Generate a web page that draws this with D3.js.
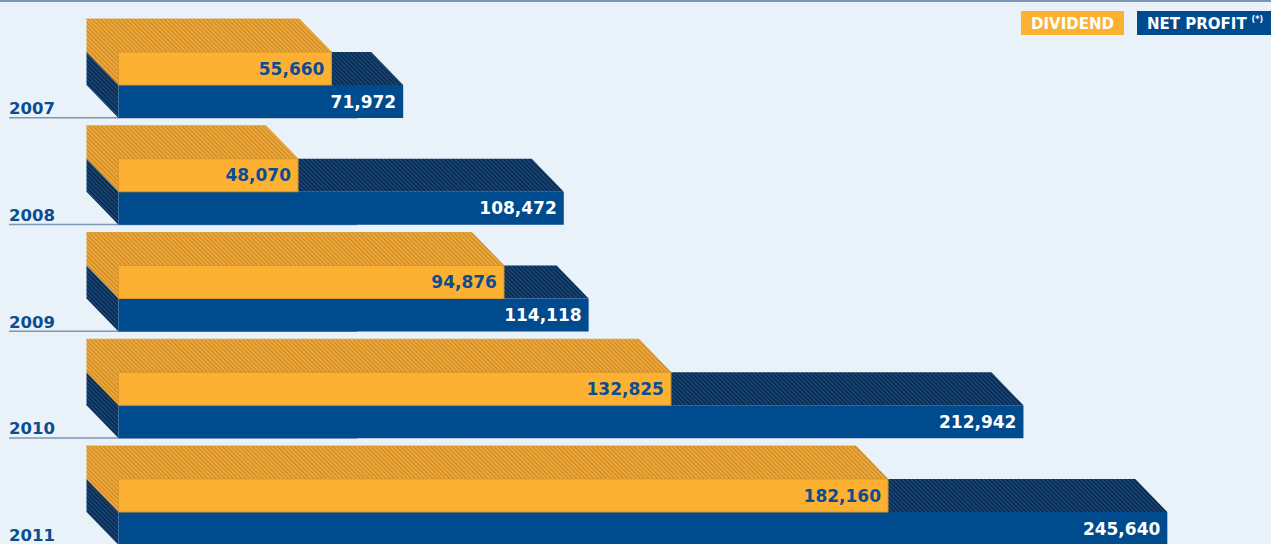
<!DOCTYPE html>
<html>
<head>
<meta charset="utf-8">
<script src="https://cdn.jsdelivr.net/npm/d3@7"></script>
<style>
  html, body { margin: 0; padding: 0; background: #e9f1f9; }
  svg { display: block; }
</style>
</head>
<body>
<script>
// Dividend vs. net profit per year (stacked 3D bars)
const years = ["2007", "2008", "2009", "2010", "2011"];
const dividend = [55660, 48070, 94876, 132825, 182160];
const netProfit = [71972, 108472, 114118, 212942, 245640];
const legendLabels = ["DIVIDEND", "NET PROFIT"];

const W = 1271, H = 544;
const C = {
  bg: "#e9f1f9",
  orange: "#fcb133",
  orangeEdge: "#d9972b",
  orangeHatchBase: "#f1a836",
  orangeHatchLine: "#c4882c",
  navy: "#004a8e",
  navyHatchBase: "#174678",
  navyHatchLine: "#07213f",
  rule: "#7d95b6",
  text: "#0b4d8f"
};
const font = "'DejaVu Sans', sans-serif";

const svg = d3.select("body").append("svg")
  .attr("width", W).attr("height", H)
  .style("background", C.bg);

// stripe patterns for the receding faces
const defs = svg.append("defs");
function hatch(id, base, line) {
  const p = defs.append("pattern")
    .attr("id", id)
    .attr("patternUnits", "userSpaceOnUse")
    .attr("width", 3).attr("height", 3)
    .attr("patternTransform", "rotate(-45)");
  p.append("rect").attr("width", 3).attr("height", 3).attr("fill", base);
  p.append("rect").attr("x", 0).attr("y", 0).attr("width", 1.1).attr("height", 3).attr("fill", line);
}
hatch("hatchOrange", C.orangeHatchBase, C.orangeHatchLine);
hatch("hatchNavy", C.navyHatchBase, C.navyHatchLine);

// top rule
svg.append("rect").attr("x", 0).attr("y", 0).attr("width", W).attr("height", 2).attr("fill", C.rule);

// scales
const depthX = 32, depthY = 33, layerH = 33;
const x = d3.scaleLinear().domain([0, 250000]).range([86.5, 1186.5]);
const step = 106.75, gap = 7.75;
const y = d3.scaleBand().domain(years)
  .range([19, 19 + years.length * step - gap])
  .paddingInner(gap / step).paddingOuter(0);

const fmt = d3.format(",");
const rows = years.map((yr, i) => ({ year: yr, div: dividend[i], net: netProfit[i] }));

const g = svg.selectAll("g.row").data(rows).join("g").attr("class", "row");

// baseline rule + year label
g.append("line")
  .attr("x1", 9).attr("x2", 357)
  .attr("y1", d => y(d.year) + y.bandwidth() - 0.25)
  .attr("y2", d => y(d.year) + y.bandwidth() - 0.25)
  .attr("stroke", C.rule).attr("stroke-width", 1.5);

g.append("text")
  .attr("x", 9)
  .attr("y", d => y(d.year) + y.bandwidth() - 4)
  .attr("font-family", font).attr("font-weight", "bold")
  .attr("font-size", 16.5).attr("fill", C.text)
  .text(d => d.year);

// one extruded box: back-left face is offset up-left by the depth
function box(sel, key, yOff, frontFill, hatchId, edge) {
  const x0 = x(0);
  const pts = (d) => {
    const top = y(d.year) + yOff;
    const front = top + depthY;
    const xe = x(d[key]);
    return { top, front, xe };
  };
  sel.append("polygon")
    .attr("points", d => {
      const p = pts(d);
      return [[x0, p.top], [p.xe - depthX, p.top], [p.xe, p.front], [x0 + depthX, p.front]].join(" ");
    })
    .attr("fill", `url(#${hatchId})`)
    .attr("stroke", edge).attr("stroke-width", 0.8);
  sel.append("polygon")
    .attr("points", d => {
      const p = pts(d);
      return [[x0, p.top], [x0 + depthX, p.front], [x0 + depthX, p.front + layerH], [x0, p.top + layerH]].join(" ");
    })
    .attr("fill", `url(#${hatchId})`);
  sel.append("rect")
    .attr("x", x0 + depthX)
    .attr("y", d => pts(d).front)
    .attr("width", d => pts(d).xe - x0 - depthX)
    .attr("height", layerH)
    .attr("fill", frontFill)
    .attr("stroke", edge === "none" ? null : edge)
    .attr("stroke-width", 1);
}

box(g, "net", depthY, C.navy, "hatchNavy", "none");
box(g, "div", 0, C.orange, "hatchOrange", C.orangeEdge);

// value labels
g.append("text")
  .attr("x", d => x(d.div) - 7)
  .attr("y", d => y(d.year) + depthY + layerH / 2 + 6)
  .attr("text-anchor", "end")
  .attr("font-family", font).attr("font-weight", "bold")
  .attr("font-size", 17).attr("fill", C.text)
  .text(d => fmt(d.div));

g.append("text")
  .attr("x", d => x(d.net) - 7)
  .attr("y", d => y(d.year) + 2 * depthY + layerH / 2 + 6)
  .attr("text-anchor", "end")
  .attr("font-family", font).attr("font-weight", "bold")
  .attr("font-size", 17).attr("fill", "#ffffff")
  .text(d => fmt(d.net));

// legend
const lg = svg.append("g");
lg.append("rect").attr("x", 1021).attr("y", 11).attr("width", 103).attr("height", 24).attr("fill", C.orange);
lg.append("text").attr("x", 1072.5).attr("y", 29).attr("text-anchor", "middle")
  .attr("font-family", font).attr("font-weight", "bold").attr("font-size", 15).attr("fill", "#ffffff")
  .text(legendLabels[0]);
lg.append("rect").attr("x", 1137).attr("y", 11).attr("width", 134).attr("height", 24).attr("fill", C.navy);
const t2 = lg.append("text").attr("x", 1147).attr("y", 29)
  .attr("font-family", font).attr("font-weight", "bold").attr("font-size", 15).attr("fill", "#ffffff");
t2.append("tspan").text(legendLabels[1]);
t2.append("tspan").attr("dx", 5).attr("dy", -7).attr("font-size", 8).text("(*)");
</script>
</body>
</html>
